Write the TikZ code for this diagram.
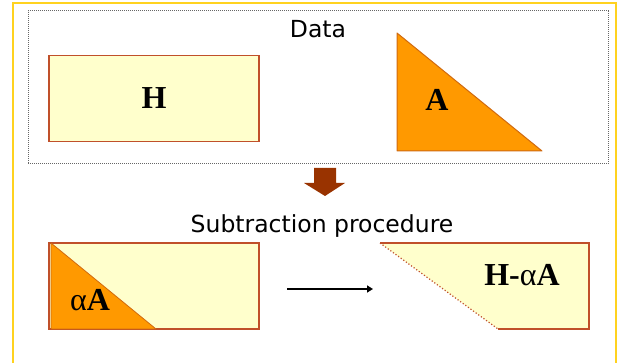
\documentclass[tikz,border=0pt]{standalone}
\usepackage{fontspec}
\setmainfont{Liberation Serif}
\setsansfont{DejaVu Sans}
\usetikzlibrary{arrows.meta,positioning}
\definecolor{frame}{HTML}{FFD21F}
\definecolor{pale}{HTML}{FFFFCC}
\definecolor{orng}{HTML}{FF9900}
\definecolor{edge}{HTML}{C0502A}
\definecolor{darkorng}{HTML}{D06A10}
\definecolor{rust}{HTML}{993300}
\tikzset{matbox/.style={draw=edge,fill=pale,line width=1.2pt,minimum width=210pt,minimum height=86pt,inner sep=0pt},title/.style={font=\sffamily\fontsize{23.5}{26}\selectfont,inner sep=0pt},sym/.style={font=\bfseries\fontsize{32}{34}\selectfont,inner sep=0pt},tri/.style={fill=orng,draw=darkorng,line width=1pt,line join=round},arrow/.style={-{Triangle[length=6pt,width=7pt]},line width=1.5pt}}

\begin{document}
\begin{tikzpicture}[x=1pt,y=-1pt]
\useasboundingbox (0,0) rectangle (619,363);
\draw[frame,line width=1.5pt] (13,363)--(13,3)--(616,3)--(616,363);
\node[draw=black!60,densely dotted,line width=1pt,minimum width=580pt,minimum height=153pt,inner sep=0pt] (data) at (318,87.5) {};
\node[title] (datatxt) at (318,29) {Data};
\node[matbox] (hbox) at (154,98.5) {};
\node[sym] (hlab) at (hbox.center) {H};
% triangle A
\coordinate (atop) at (397,33);
\coordinate (acorner) at (397,151);
\coordinate (aright) at (542,151);
\draw[tri] (atop)--(acorner)--(aright)--cycle;
\node[sym] (alab) at (437,100) {A};
% down arrow
\fill[rust] (314,168)--(336,168)--(336,183)--(345,183)--(325,196)--(304,183)--(314,183)--cycle;
\node[title] (subtxt) at (322,226) {Subtraction procedure};
% left: H with alpha A inside
\node[matbox] (hsub) at (154,286) {};
\draw[tri,line width=0.8pt] (51,243)--(51,329)--(156,329)--cycle;
\node[sym] (alab2) at (90,300) {{\mdseries α}A};
% right: H - alpha A
\coordinate (rtl) at (380,243);
\coordinate (rtr) at (589,243);
\coordinate (rbr) at (589,329);
\coordinate (rbl) at (498,329);
\fill[pale] (rtl)--(rtr)--(rbr)--(rbl)--cycle;
\draw[edge,line width=1.2pt] (rbl)--(rbr)--(rtr)--(rtl);
\draw[edge,dotted,line width=1.2pt] (rtl)--(rbl);
\node[sym] (hres) at (522,275) {H-{\mdseries α}A};
\coordinate (goL) at (287,289);
\coordinate (goR) at (373,289);
\draw[arrow] (goL)--(goR);
\end{tikzpicture}
\end{document}
